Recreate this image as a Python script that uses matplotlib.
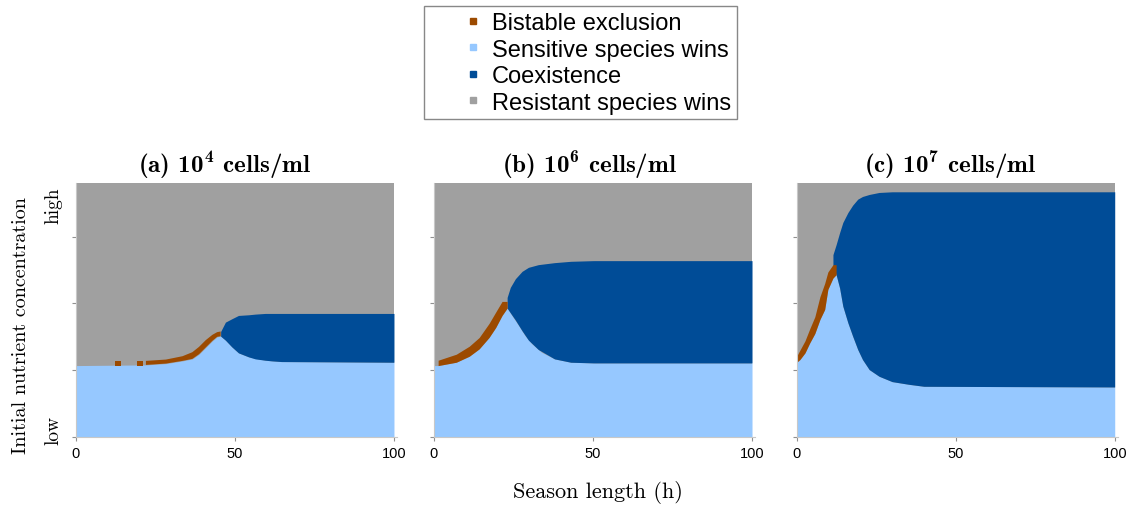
import matplotlib
matplotlib.use('Agg')
import matplotlib.pyplot as plt
from matplotlib.lines import Line2D
import numpy as np

plt.rcParams['mathtext.fontset'] = 'custom'
plt.rcParams['mathtext.rm'] = 'cmr10'
plt.rcParams['mathtext.bf'] = 'cmb10'
plt.rcParams['axes.unicode_minus'] = False

# colours of the four outcomes
C_BIST = '#9c4a00'
C_SENS = '#96c8ff'
C_COEX = '#004c97'
C_RES = '#a0a0a0'

titles = [r'(a) $\mathbf{10^4}$ cells/ml', r'(b) $\mathbf{10^6}$ cells/ml', r'(c) $\mathbf{10^7}$ cells/ml']
legend_labels = ['Bistable exclusion', 'Sensitive species wins', 'Coexistence', 'Resistant species wins']

# ---- panel (a): 10^4 cells/ml ----
a_sens_x = [0, 22, 28.3, 33.5, 36.6, 38.7, 40.8, 42.9, 44.4, 45.5, 47, 49, 51.1, 54.3, 59.5, 64.6, 100]
a_sens_y = [1.07, 1.08, 1.10, 1.14, 1.17, 1.24, 1.34, 1.44, 1.50, 1.51, 1.45, 1.35, 1.26, 1.20, 1.15, 1.13, 1.12]
a_bist_x = [12.2, 14.2, np.nan, 19.1, 21.2, np.nan, 22, 28.3, 33.5, 36.6, 38.7, 40.8, 42.9, 44.4, 45.5]
a_bist_lo = [1.07, 1.07, np.nan, 1.07, 1.07, np.nan, 1.08, 1.10, 1.14, 1.17, 1.24, 1.34, 1.44, 1.50, 1.51]
a_bist_hi = [1.14, 1.14, np.nan, 1.14, 1.14, np.nan, 1.14, 1.16, 1.21, 1.27, 1.35, 1.45, 1.53, 1.57, 1.58]
a_coex_x = [45.5, 47, 49, 51.1, 54.3, 56.4, 59.5, 61.6, 64.6, 100]
a_coex_lo = [1.51, 1.45, 1.35, 1.26, 1.20, 1.17, 1.15, 1.14, 1.13, 1.12]
a_coex_hi = [1.58, 1.72, 1.77, 1.82, 1.83, 1.84, 1.85, 1.85, 1.85, 1.85]

# ---- panel (b): 10^6 cells/ml ----
b_sens_x = [0, 1.3, 7, 11.1, 14.2, 17.3, 19.4, 21.4, 23, 24.5, 26.6, 28.6, 30.7, 33.8, 37.9, 43, 50.2, 100]
b_sens_y = [1.07, 1.07, 1.12, 1.21, 1.32, 1.49, 1.64, 1.82, 1.93, 1.82, 1.67, 1.52, 1.40, 1.27, 1.17, 1.12, 1.11, 1.11]
b_bist_x = [1.3, 7, 11.1, 14.2, 17.3, 19.4, 21.4, 23]
b_bist_lo = [1.07, 1.12, 1.21, 1.32, 1.49, 1.64, 1.82, 1.93]
b_bist_hi = [1.15, 1.24, 1.36, 1.49, 1.70, 1.87, 2.03, 2.03]
b_coex_x = [23, 24, 25.6, 27.7, 29.7, 32.8, 37.9, 43, 50.2, 100]
b_coex_lo = [1.93, 1.86, 1.75, 1.59, 1.45, 1.31, 1.17, 1.12, 1.11, 1.11]
b_coex_hi = [2.09, 2.24, 2.37, 2.48, 2.54, 2.58, 2.61, 2.63, 2.64, 2.64]

# ---- panel (c): 10^7 cells/ml ----
c_sens_x = [0, 1, 2.6, 4.1, 5.7, 7.3, 8.8, 9.8, 11.4, 12.4, 13.5, 14.5, 16.1, 17.6, 19.2, 20.7, 22.8, 25.9, 30, 35.2, 40, 100]
c_sens_y = [1.12, 1.16, 1.26, 1.41, 1.55, 1.76, 1.91, 2.21, 2.38, 2.43, 2.23, 1.96, 1.71, 1.51, 1.31, 1.16, 1.01, 0.91, 0.83, 0.79, 0.76, 0.75]
c_bist_x = [0, 1, 2.6, 4.1, 5.7, 7.3, 8.8, 9.8, 11.4, 12.4]
c_bist_lo = [1.12, 1.16, 1.26, 1.41, 1.55, 1.76, 1.91, 2.21, 2.38, 2.43]
c_bist_hi = [1.21, 1.30, 1.44, 1.62, 1.80, 2.10, 2.30, 2.47, 2.58, 2.58]
c_coex_x = [11.4, 12.4, 13.5, 14.5, 16.1, 17.6, 19.2, 20.7, 22.8, 25.9, 30, 35.2, 40, 100]
c_coex_lo = [2.58, 2.43, 2.23, 1.96, 1.71, 1.51, 1.31, 1.16, 1.01, 0.91, 0.83, 0.79, 0.76, 0.75]
c_coex_hi = [2.73, 2.88, 3.06, 3.21, 3.36, 3.47, 3.56, 3.60, 3.63, 3.66, 3.67, 3.67, 3.67, 3.67]

panels = [
    (a_sens_x, a_sens_y, a_bist_x, a_bist_lo, a_bist_hi, a_coex_x, a_coex_lo, a_coex_hi),
    (b_sens_x, b_sens_y, b_bist_x, b_bist_lo, b_bist_hi, b_coex_x, b_coex_lo, b_coex_hi),
    (c_sens_x, c_sens_y, c_bist_x, c_bist_lo, c_bist_hi, c_coex_x, c_coex_lo, c_coex_hi),
]

Y_TOP = 3.8
lefts = [0.0668, 0.3817, 0.7007]
title_x = [0.463, 0.484, 0.478]
width = 0.2825

fig = plt.figure(figsize=(11.37, 5.10), dpi=100)

for i, (sx, sy, bx, blo, bhi, cx, clo, chi) in enumerate(panels):
    ax = fig.add_axes([lefts[i], 0.141, width, 0.498])
    ax.fill_between([0, 100], 0, Y_TOP, color=C_RES, lw=0)
    ax.fill_between(sx, 0, sy, color=C_SENS, lw=0)
    ax.fill_between(cx, clo, chi, color=C_COEX, lw=0)
    ax.fill_between(bx, blo, bhi, color=C_BIST, lw=0)
    ax.set_xlim(0, 101)
    ax.set_ylim(0, Y_TOP)
    ax.set_xticks([0, 50, 100])
    ax.set_yticks([0, 1, 2, 3])
    ax.set_yticklabels([])
    for s in ['top', 'right']:
        ax.spines[s].set_visible(False)
    for s in ['left', 'bottom']:
        ax.spines[s].set_color('#c8c8c8')
    ax.tick_params(colors='#909090', length=3, width=0.8, labelcolor='black')
    for lab in ax.get_xticklabels():
        lab.set_fontfamily('Liberation Sans')
        lab.set_fontsize(10.5)
    t = ax.set_title(titles[i], fontfamily='cmb10', fontsize=18, pad=8)
    t.set_x(title_x[i])

# y-axis end labels
fig.text(0.047, 1 - 206 / 510, 'high', rotation=90, ha='center', va='center',
         fontfamily='cmr10', fontsize=14)
fig.text(0.047, 1 - 431 / 510, 'low', rotation=90, ha='center', va='center',
         fontfamily='cmr10', fontsize=14)

fig.text(0.0185, 1 - 326 / 510, 'Initial nutrient concentration', rotation=90,
         ha='center', va='center', fontfamily='cmr10', fontsize=14.5)
fig.text(598 / 1137, 1 - 493 / 510, 'Season length (h)', ha='center', va='center',
         fontfamily='cmr10', fontsize=16)

handles = [Line2D([], [], ls='none', marker='s', markersize=4, color=c)
           for c in [C_BIST, C_SENS, C_COEX, C_RES]]
fig.legend(handles, legend_labels, loc='upper center', bbox_to_anchor=(0.5106, 0.986),
           frameon=True, fancybox=False, edgecolor='#888888', framealpha=1,
           prop={'family': 'Liberation Sans', 'size': 17}, handlelength=3.6,
           handletextpad=-1.0, labelspacing=0.19, borderpad=0.25, borderaxespad=0)

plt.savefig('out.png', dpi=100)
plt.close()
